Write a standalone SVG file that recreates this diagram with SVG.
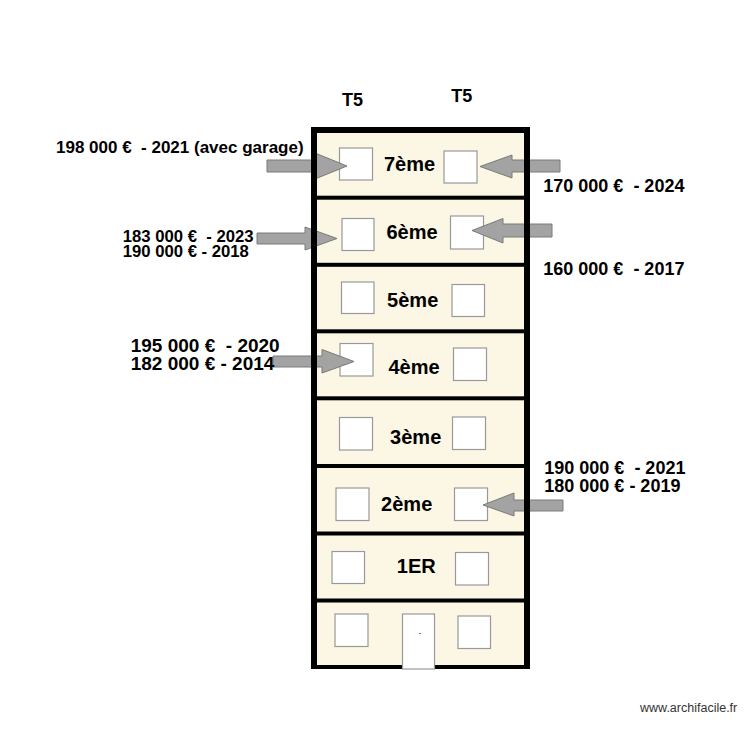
<svg xmlns="http://www.w3.org/2000/svg" width="750" height="750" viewBox="0 0 750 750">
<style>
.t{font-family:"Liberation Sans",Arial,sans-serif;font-weight:bold;fill:#000}
.fl{font-size:20px;text-anchor:middle}
.win{fill:#fff;stroke:#999;stroke-width:1.2}
.arr{fill:#a3a3a3;stroke:#7a7a7a;stroke-width:1}
.wall{fill:#000}
</style>
<rect width="750" height="750" fill="#fff"/>
<g id="building">
<rect x="314" y="130" width="213" height="537" fill="#fcf6e4"/>
</g>
<g id="windows">
<rect class="win" x="339.5" y="148" width="33" height="32"/>
<rect class="win" x="444" y="151" width="33" height="32"/>
<rect class="win" x="342" y="218.5" width="32" height="32"/>
<rect class="win" x="450.5" y="216" width="33" height="33"/>
<rect class="win" x="341.5" y="282" width="32.5" height="31.5"/>
<rect class="win" x="452" y="284.5" width="32.5" height="32"/>
<rect class="win" x="340" y="343.5" width="33" height="32.5"/>
<rect class="win" x="453.5" y="348" width="33" height="32.5"/>
<rect class="win" x="339.5" y="417.5" width="33" height="32.5"/>
<rect class="win" x="452.5" y="417" width="33" height="32.5"/>
<rect class="win" x="336" y="488" width="33" height="32.5"/>
<rect class="win" x="454.5" y="488" width="33" height="32.5"/>
<rect class="win" x="332" y="551.5" width="32.5" height="32"/>
<rect class="win" x="455.5" y="552.5" width="33" height="32.5"/>
<rect class="win" x="335" y="614" width="33" height="32.5"/>
<rect class="win" x="458" y="616" width="32.5" height="32.5"/>
</g>
<g id="connectors">
<polygon class="arr" points="267,160 315,160 315,153 347,166 315,179 315,172 267,172"/>
<polygon class="arr" points="257,233 305,233 305,227 337,238.5 305,250 305,244 257,244"/>
<polygon class="arr" points="273,356 322,356 322,349.5 354,361.5 322,373 322,367 273,367"/>
<polygon class="arr" points="560,160 512,160 512,155 480,166.5 512,178 512,172 560,172"/>
<polygon class="arr" points="552,224 503,224 503,218.5 472,230.5 503,243 503,237 552,237"/>
<polygon class="arr" points="563,500 514,500 514,493 483,505 514,516 514,511 563,511"/>
</g>
<g id="walls">
<rect class="wall" x="311" y="127" width="6" height="542"/>
<rect class="wall" x="524" y="127" width="6" height="542"/>
<rect class="wall" x="311" y="127" width="219" height="6"/>
<rect class="wall" x="311" y="665" width="219" height="4"/>
<rect class="wall" x="311" y="195.7" width="219" height="4"/>
<rect class="wall" x="311" y="262.8" width="219" height="4"/>
<rect class="wall" x="311" y="329.3" width="219" height="4"/>
<rect class="wall" x="311" y="396.3" width="219" height="4"/>
<rect class="wall" x="311" y="464" width="219" height="4"/>
<rect class="wall" x="311" y="531.5" width="219" height="4"/>
<rect class="wall" x="311" y="598.5" width="219" height="4"/>
</g>
<g id="door">
<rect x="402.5" y="614" width="32" height="55" fill="#fff" stroke="#999" stroke-width="1.2"/>
<line x1="419" y1="633.5" x2="421" y2="633.5" stroke="#777" stroke-width="1"/>
</g>
<g id="floor-labels">
<text class="t fl" x="409.5" y="171">7ème</text>
<text class="t fl" x="412" y="239.3">6ème</text>
<text class="t fl" x="412.7" y="307.3">5ème</text>
<text class="t fl" x="414" y="374">4ème</text>
<text class="t fl" x="415.7" y="444.3">3ème</text>
<text class="t fl" x="406.7" y="510.7">2ème</text>
<text class="t fl" x="416.3" y="573.3">1ER</text>
</g>
<g id="type-labels">
<text class="t" x="352.5" y="106" font-size="18" text-anchor="middle">T5</text>
<text class="t" x="461.7" y="101.7" font-size="18" text-anchor="middle">T5</text>
</g>
<g id="price-labels">
<text class="t" x="56" y="153" font-size="17" xml:space="preserve">198 000 €  - 2021 (avec garage)</text>
<text class="t" x="122.7" y="241.7" font-size="16.7" xml:space="preserve">183 000 €  - 2023</text>
<text class="t" x="122.7" y="256.7" font-size="16.7" xml:space="preserve">190 000 € - 2018</text>
<text class="t" x="130.7" y="352.3" font-size="19" xml:space="preserve">195 000 €  - 2020</text>
<text class="t" x="130.7" y="370" font-size="19" xml:space="preserve">182 000 € - 2014</text>
<text class="t" x="543.3" y="191.7" font-size="18" xml:space="preserve">170 000 €  - 2024</text>
<text class="t" x="543.3" y="275" font-size="18" xml:space="preserve">160 000 €  - 2017</text>
<text class="t" x="544.3" y="474" font-size="18" xml:space="preserve">190 000 €  - 2021</text>
<text class="t" x="544.3" y="491.7" font-size="18" xml:space="preserve">180 000 € - 2019</text>
</g>
<g id="watermark">
<text x="640" y="711.7" font-family="Liberation Sans,Arial,sans-serif" font-size="12.5" fill="#333">www.archifacile.fr</text>
</g>
</svg>
